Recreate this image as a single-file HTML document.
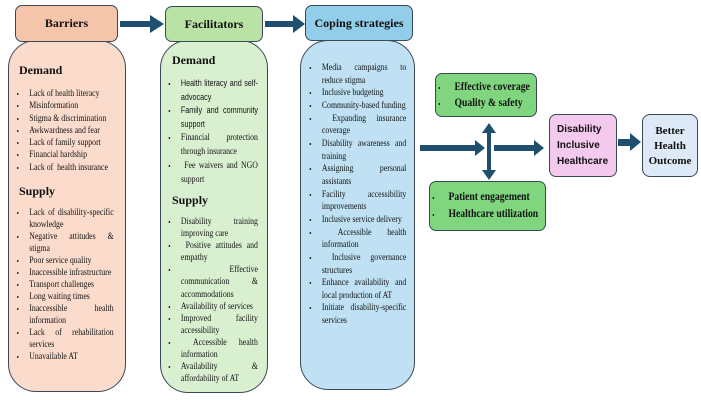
<!DOCTYPE html>
<html><head><meta charset="utf-8"><style>
body{margin:0;width:701px;height:400px;background:#fff;position:relative;overflow:hidden;font-family:"Liberation Serif",serif;color:#111}
.a{position:absolute;box-sizing:border-box}
.hdr{border:1.5px solid #3a4a55;border-radius:7px;font-weight:bold;font-size:12px;text-align:center;line-height:34px}
.body{border:1.5px solid #3a4a55;border-radius:28px}
ul{margin:0;list-style:disc;font-size:9.5px;transform:scaleX(.82);transform-origin:left top}
li{text-align:justify;text-align-last:left;padding-left:4px}
li::marker{font-size:8px}
h4{margin:0;font-size:12px;font-weight:bold}
.gb{background:#7fd67f;border:1.5px solid #3a4a55;border-radius:7px;font-weight:bold;font-size:11px}
.gb ul{font-size:11.5px;padding-left:14px;transform:scaleX(.84);white-space:nowrap;width:150px}
.gb li{text-align:left;padding-left:8px}
.ar{position:absolute;background:#1f4e6e}
</style></head><body>
<!-- Barriers -->
<div class="a body" style="left:8px;top:40px;width:118px;height:352px;background:#fbdccc"></div>
<div class="a hdr" style="left:15px;top:5px;width:103px;height:37px;background:#f5c5ab">Barriers</div>
<div class="a" style="left:19px;top:63px;width:96px"><h4>Demand</h4></div>
<ul class="a" style="left:12px;top:88px;width:124px;padding-left:17px;line-height:12.3px">
<li>Lack of health literacy</li><li>Misinformation</li><li>Stigma &amp; discrimination</li><li>Awkwardness and fear</li><li>Lack of family support</li><li>Financial hardship</li><li>Lack of&nbsp; health insurance</li></ul>
<div class="a" style="left:19px;top:184px"><h4>Supply</h4></div>
<ul class="a" style="left:12px;top:207px;width:124px;padding-left:17px;line-height:12px">
<li>Lack of disability-specific knowledge</li><li>Negative attitudes &amp; stigma</li><li>Poor service quality</li><li>Inaccessible infrastructure</li><li>Transport challenges</li><li>Long waiting times</li><li>Inaccessible health information</li><li>Lack of rehabilitation services</li><li>Unavailable AT</li></ul>
<!-- Facilitators -->
<div class="a body" style="left:160px;top:40px;width:108px;height:353px;background:#d9f0d0"></div>
<div class="a hdr" style="left:165px;top:6px;width:98px;height:36px;background:#b8e3a5">Facilitators</div>
<div class="a" style="left:172px;top:53px"><h4>Demand</h4></div>
<ul class="a" style="left:162px;top:77px;width:117px;padding-left:19px;line-height:13.5px;font-family:'Liberation Sans',sans-serif;font-size:8.8px">
<li>Health literacy and self-advocacy</li><li>Family and community support</li><li style="font-family:'Liberation Serif',serif;font-size:9.5px">Financial protection through insurance</li><li style="font-family:'Liberation Serif',serif;font-size:9.5px">&nbsp;Fee waivers and NGO support</li></ul>
<div class="a" style="left:172px;top:193px"><h4>Supply</h4></div>
<ul class="a" style="left:162px;top:216px;width:117px;padding-left:19px;line-height:12.1px">
<li>Disability training improving care</li><li>&nbsp;Positive attitudes and empathy</li><li>&nbsp;Effective communication &amp; accommodations</li><li>Availability of services</li><li>Improved facility accessibility</li><li>&nbsp;Accessible health information</li><li>Availability &amp; affordability of AT</li></ul>
<!-- Coping -->
<div class="a body" style="left:300px;top:40px;width:115px;height:350px;background:#bfe1f3"></div>
<div class="a hdr" style="left:305px;top:5px;width:108px;height:36px;background:#92cdea">Coping strategies</div>
<ul class="a" style="left:303px;top:62px;width:126px;padding-left:19px;line-height:12.65px">
<li>Media campaigns to reduce stigma</li><li>Inclusive budgeting</li><li>Community-based funding</li><li>&nbsp;Expanding insurance coverage</li><li>Disability awareness and training</li><li>Assigning personal assistants</li><li>Facility accessibility improvements</li><li>Inclusive service delivery</li><li>&nbsp;Accessible health information</li><li>&nbsp;Inclusive governance structures</li><li>Enhance availability and local production of AT</li><li>Initiate disability-specific services</li></ul>
<!-- arrows top -->
<div class="ar" style="left:120px;top:21px;width:33px;height:6px"></div>
<svg class="a" style="left:150px;top:15px" width="14" height="18"><polygon points="0,0 14,9 0,18" fill="#1f4e6e"/></svg>
<div class="ar" style="left:265px;top:21px;width:30px;height:6px"></div>
<svg class="a" style="left:293px;top:15px" width="12" height="18"><polygon points="0,0 12,9 0,18" fill="#1f4e6e"/></svg>
<!-- right part -->
<div class="a gb" style="left:435px;top:73px;width:102px;height:44px;padding-top:5px"><ul style="line-height:16px"><li>Effective coverage</li><li>Quality &amp; safety</li></ul></div>
<div class="a gb" style="left:429px;top:181px;width:117px;height:50px;padding-top:7px"><ul style="line-height:17px"><li>Patient engagement</li><li>Healthcare utilization</li></ul></div>
<div class="ar" style="left:420px;top:145px;width:57px;height:6px"></div>
<svg class="a" style="left:475px;top:140px" width="10" height="16"><polygon points="0,0 10,8 0,16" fill="#1f4e6e"/></svg>
<div class="ar" style="left:494px;top:145px;width:42px;height:6px"></div>
<svg class="a" style="left:534px;top:140px" width="10" height="16"><polygon points="0,0 10,8 0,16" fill="#1f4e6e"/></svg>
<div class="ar" style="left:487px;top:130px;width:4px;height:42px"></div>
<svg class="a" style="left:482px;top:123px" width="14" height="10"><polygon points="7,0 14,10 0,10" fill="#1f4e6e"/></svg>
<svg class="a" style="left:482px;top:170px" width="14" height="10"><polygon points="0,0 14,0 7,10" fill="#1f4e6e"/></svg>
<div class="a" style="left:549px;top:114px;width:68px;height:63px;background:#f3c9ed;border:1.5px solid #3a4a55;border-radius:7px;font-family:'Liberation Sans',sans-serif;font-weight:bold;font-size:10px;line-height:16px;padding:7px 0 0 7px">Disability<br>Inclusive<br>Healthcare</div>
<div class="ar" style="left:618px;top:139px;width:14px;height:7px"></div>
<svg class="a" style="left:630px;top:133px" width="11" height="18"><polygon points="0,0 11,9 0,18" fill="#1f4e6e"/></svg>
<div class="a" style="left:642px;top:114px;width:56px;height:63px;background:#dde9f7;border:1.5px solid #3a4a55;border-radius:8px;font-weight:bold;font-size:11px;line-height:15px;text-align:center;padding-top:9px">Better<br>Health<br>Outcome</div>
</body></html>
